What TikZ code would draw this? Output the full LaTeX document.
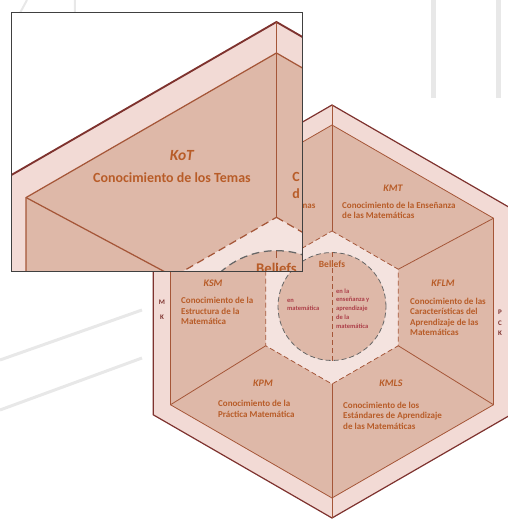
\documentclass[tikz,border=0pt]{standalone}
\usepackage{fontspec}
\setmainfont{Carlito}
\usetikzlibrary{calc}

\definecolor{ringpink}{RGB}{242,218,213}
\definecolor{sectortan}{RGB}{222,184,168}
\definecolor{centrepink}{RGB}{244,227,223}
\definecolor{edgebrown}{RGB}{165,86,56}
\definecolor{rimbrown}{RGB}{126,50,46}
\definecolor{textbrown}{RGB}{184,92,40}
\definecolor{textred}{RGB}{172,62,72}

\tikzset{
  titlabel/.style={font=\fontsize{10}{11}\selectfont\bfseries\itshape, text=textbrown, inner sep=0pt},
  bodylabel/.style={font=\fontsize{9}{10.5}\selectfont\bfseries, text=textbrown, align=left, anchor=west, inner sep=0pt},
  beliefslabel/.style={font=\fontsize{6.5}{8.8}\selectfont\bfseries, text=textred, align=left, anchor=west, inner sep=0pt},
  ringlabel/.style={font=\fontsize{7}{8}\selectfont\bfseries, text=rimbrown, inner sep=0pt},
}

% el hexagono, #1 prefijo de nombres, #2 factor de grosor
\newcommand{\hexmtsk}[2]{%
  \pgfmathsetmacro\lwthin{0.8*#2}%
  \pgfmathsetmacro\lwthick{1.2*#2}%
  \pgfmathsetmacro\dson{5*#2}%
  \pgfmathsetmacro\dsoff{3*#2}%
  \foreach \i/\a in {1/90,2/30,3/-30,4/-90,5/-150,6/150}{
    \coordinate (#1o\i) at (\a:206.5);
    \coordinate (#1n\i) at (\a:186.5);
    \coordinate (#1c\i) at ($(0,4)+(\a:76.5)$);
  }
  % anillo exterior MK / PCK
  \filldraw[fill=ringpink, draw=rimbrown, line width=\lwthick pt] (#1o1) -- (#1o2) -- (#1o3) -- (#1o4) -- (#1o5) -- (#1o6) -- cycle;
  \draw[edgebrown, line width=\lwthin pt] (#1o1) -- (#1n1) (#1o4) -- (#1n4);
  % subdominios
  \filldraw[fill=sectortan, draw=edgebrown, line width=\lwthin pt] (#1n1) -- (#1n2) -- (#1n3) -- (#1n4) -- (#1n5) -- (#1n6) -- cycle;
  \fill[centrepink] (#1c1) -- (#1c2) -- (#1c3) -- (#1c4) -- (#1c5) -- (#1c6) -- cycle;
  \foreach \i in {1,...,6}
    \draw[edgebrown, line width=\lwthin pt] (#1n\i) -- (#1c\i);
  \draw[edgebrown, line width=\lwthin pt, dash pattern=on \dson pt off \dsoff pt] (#1c1) -- (#1c2) -- (#1c3) -- (#1c4) -- (#1c5) -- (#1c6) -- cycle;
  % Beliefs
  \filldraw[fill=sectortan, draw=black!60, line width=\lwthin pt, dash pattern=on \dson pt off \dsoff pt] (0,5) circle (54);
  \draw[edgebrown, line width=\lwthin pt, dash pattern=on \dson pt off \dsoff pt] (0,59) -- (0,-49);
  \node[titlabel, font=\fontsize{9.5}{10}\selectfont\bfseries] (#1bel) at (0,47.5) {Beliefs};
}

\begin{document}
\begin{tikzpicture}[x=1pt, y=1pt]
  \useasboundingbox (-332,-207.5) rectangle (175,311.5);

  % trazos grises del fondo
  \draw[gray!18, line width=5pt] (101,311.5) -- (101,213.5) (166,311.5) -- (166,213.5);
  \draw[gray!18, line width=3pt] (-332,-48.5) -- (-190,1.5) (-332,-98.5) -- (-190,-46.5);
  \draw[gray!18, line width=2pt] (-312,298.5) -- (-305,311.5) (-257,311.5) -- (-257,299.5);

  \hexmtsk{m}{1}

  % textos
  \node[bodylabel, anchor=center] (kottxt) at (-67.4,106) {Conocimiento de los Temas};
  \node[titlabel] (kmt) at (61,123.5) {KMT};
  \node[bodylabel] (kmttxt) at (10,101) {Conocimiento de la Enseñanza\\de las Matemáticas};
  \node[titlabel] (kflm) at (111,28.5) {KFLM};
  \node[bodylabel] (kflmtxt) at (78,-5.2) {Conocimiento de las\\Características del\\Aprendizaje de las\\Matemáticas};
  \node[titlabel] (ksm) at (-119,28.5) {KSM};
  \node[bodylabel] (ksmtxt) at (-151,0.5) {Conocimiento de la\\Estructura de la\\Matemática};
  \node[titlabel] (kpm) at (-69,-71.5) {KPM};
  \node[bodylabel] (kpmtxt) at (-114,-97.5) {Conocimiento de la\\Práctica Matemática};
  \node[titlabel] (kmls) at (59,-71.5) {KMLS};
  \node[bodylabel] (kmlstxt) at (11,-104.3) {Conocimiento de los\\Estándares de Aprendizaje\\de las Matemáticas};
  \node[beliefslabel] (belmat) at (-45,6.5) {en\\matemática};
  \node[beliefslabel] (belens) at (4,3) {en la\\enseñanza y\\aprendizaje\\de la\\matemática};
  \node[ringlabel] (mkm) at (-170,9.5) {M};
  \node[ringlabel] (mkk) at (-170,-5.5) {K};
  \node[ringlabel] (pckp) at (168,-1.2) {P};
  \node[ringlabel] (pckc) at (168,-11.5) {C};
  \node[ringlabel] (pckk) at (168,-21.5) {K};

  % lupa sobre KoT
  \begin{scope}
    \clip (-320,298.5) rectangle (-30,39.5);
    \fill[white] (-320,298.5) rectangle (-30,39.5);
    \begin{scope}[shift={(-55.55,-30.6)}, scale=1.55, transform shape]
      \hexmtsk{z}{1.55}
      \node[titlabel] (zkot) at (-61,120.5) {KoT};
      \node[bodylabel, anchor=center] (zkottxt) at (-67.4,106) {Conocimiento de los Temas};
      \node[bodylabel] (zkmttxt) at (10,101) {C\\d};
    \end{scope}
  \end{scope}
  \draw[black!75, line width=1pt] (-320,298.5) rectangle (-30,39.5);
\end{tikzpicture}
\end{document}
